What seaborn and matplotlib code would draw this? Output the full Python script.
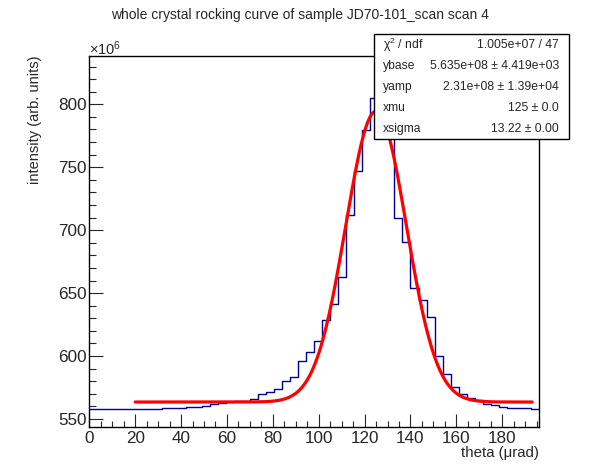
import numpy as np
import pandas as pd
import matplotlib
matplotlib.use('Agg')
import matplotlib.pyplot as plt
from matplotlib.ticker import MultipleLocator
import seaborn as sns

# histogram: 56 bins of 3.5 urad from 0 to 196, intensity in units of 1e6
bin_width = 3.5
n_bins = 56
intensity = [
    557.7, 557.7, 557.7, 557.7, 557.7, 557.7, 557.7, 557.7, 557.7, 558.5,
    558.5, 558.5, 559.5, 559.5, 560.6, 561.7, 562.7, 563.6, 564.0, 564.5,
    565.6, 569.6, 571.2, 573.6, 579.9, 583.3, 595.8, 603.0, 611.8, 628.3,
    641.2, 662.5, 711.8, 746.8, 779.5, 804.7, 800.0, 786.0, 709.4, 690.3,
    653.9, 644.3, 630.8, 599.8, 585.5, 575.4, 569.6, 566.4, 565.1, 561.7,
    560.9, 559.3, 558.5, 558.5, 558.5, 557.7,
]

# fit parameters (gaussian + baseline), yields in units of 1e6
ybase = 563.5
yamp = 231.0
xmu = 125.0
xsigma = 13.22
fit_lo, fit_hi = 20.0, 193.0

stat_names = ['\u03c7$^{2}$ / ndf', 'ybase', 'yamp', 'xmu', 'xsigma']
stat_values = ['1.005e+07 / 47', '5.635e+08 \u00b1 4.419e+03',
               '2.31e+08 \u00b1 1.39e+04', '125 \u00b1 0.0', '13.22 \u00b1 0.00']

edges = np.arange(n_bins + 1) * bin_width
hist_df = pd.DataFrame({'theta': edges[:-1] + bin_width / 2, 'intensity': intensity})

fx = np.linspace(fit_lo, fit_hi, 400)
fit_df = pd.DataFrame({'theta': fx,
                       'intensity': ybase + yamp * np.exp(-(fx - xmu) ** 2 / (2 * xsigma ** 2))})

sns.set_style('ticks')
plt.rcParams['font.family'] = ['Liberation Sans', 'DejaVu Sans']
plt.rcParams['mathtext.fontset'] = 'custom'
plt.rcParams['mathtext.rm'] = 'Liberation Sans'
plt.rcParams['mathtext.it'] = 'Liberation Sans'

fig = plt.figure(figsize=(5.98, 4.74), dpi=100)
ax = fig.add_axes([0.1493, 0.0998, 0.9013 - 0.1493, 0.8819 - 0.0998])

sns.histplot(data=hist_df, x='theta', weights='intensity', binwidth=bin_width,
             binrange=(0, n_bins * bin_width), element='step', fill=False,
             color='#000099', linewidth=1.0, ax=ax)
sns.lineplot(data=fit_df, x='theta', y='intensity', color='red', linewidth=2.3, ax=ax)

ax.set_xlim(0, 196)
ax.set_ylim(543.9, 838.4)
ax.xaxis.set_major_locator(MultipleLocator(20))
ax.xaxis.set_minor_locator(MultipleLocator(5))
ax.yaxis.set_major_locator(MultipleLocator(50))
ax.yaxis.set_minor_locator(MultipleLocator(10))
# tick lengths in points (ROOT-like inward ticks)
ax.tick_params(which='major', direction='in', length=9.2, width=0.8, labelsize=12.3, pad=3)
ax.tick_params(which='minor', direction='in', length=4.6, width=0.8)
ax.tick_params(axis='y', which='major', length=10, pad=2)
ax.tick_params(axis='y', which='minor', length=4.8)
for s in ax.spines.values():
    s.set_linewidth(1.0)
    s.set_color('black')

ax.set_xlabel('')
ax.set_ylabel('')
fig.text(539 / 598, 1 - 453 / 474, 'theta (\u03bcrad)', ha='right', va='center', fontsize=10.8)
fig.text(35 / 598, 1 - 55 / 474, 'intensity (arb. units)', ha='center', va='top',
         rotation=90, fontsize=10.5)
fig.text(89 / 598, 1 - 49 / 474, '$\\times10^{6}$', ha='left', va='center', fontsize=10.5)
fig.text(300 / 598, 1 - 15 / 474, 'whole crystal rocking curve of sample JD70-101_scan scan 4',
         ha='center', va='center', fontsize=10)

# stats box
bx0, bx1, by0, by1 = 374 / 598, 569 / 598, 1 - 139 / 474, 1 - 34 / 474
fig.patches.append(plt.Rectangle((bx0, by0), bx1 - bx0, by1 - by0, transform=fig.transFigure,
                                 facecolor='white', edgecolor='black', linewidth=1.0, zorder=5))
for i, (nm, val) in enumerate(zip(stat_names, stat_values)):
    yy = 1 - (45 + 21 * i) / 474
    fig.text(383 / 598, yy, nm, ha='left', va='center', fontsize=8.7, zorder=6)
    fig.text(559 / 598, yy, val, ha='right', va='center', fontsize=8.7, zorder=6)

fig.savefig('out.png', dpi=100)
